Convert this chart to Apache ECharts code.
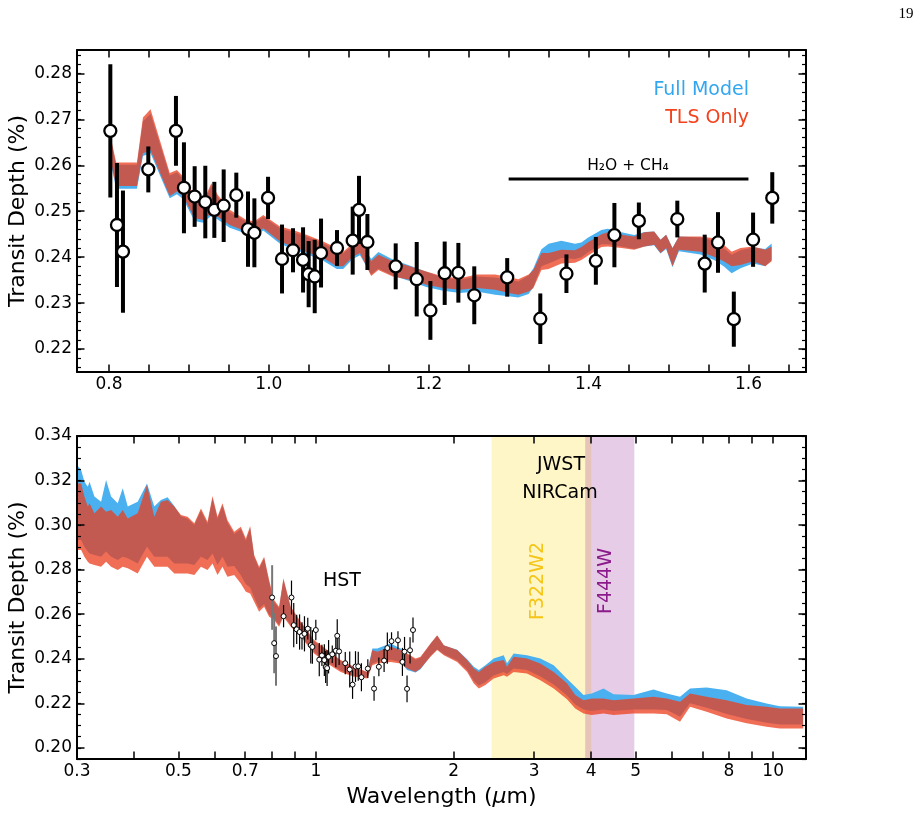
<!DOCTYPE html>
<html>
<head>
<meta charset="utf-8">
<script src="https://cdn.jsdelivr.net/npm/echarts@6/dist/echarts.min.js"></script>
<style>
  html, body { margin: 0; padding: 0; background: #fff; }
  #main { width: 922px; height: 837px; }
</style>
</head>
<body>
<div id="main"></div>
<script>
// HST WFC3 points (top panel, also repeated small in the bottom panel)
const hstWl = [0.8017,0.8100,0.8175,0.8492,0.8838,0.8938,0.9072,0.9205,0.9318,0.9435,0.9593,0.9739,0.9819,0.9990,1.0165,1.0302,1.0428,1.0498,1.0574,1.0653,1.0853,1.1049,1.1128,1.1233,1.1587,1.1850,1.2021,1.2200,1.2371,1.2570,1.2982,1.3396,1.3723,1.4091,1.4323,1.4629,1.5110,1.5453,1.5619,1.5817,1.6058,1.6298];
const hstDepth = [0.2675,0.2470,0.2412,0.2591,0.2675,0.2551,0.2532,0.2520,0.2503,0.2512,0.2535,0.2461,0.2453,0.2529,0.2396,0.2415,0.2394,0.2363,0.2358,0.2409,0.2420,0.2436,0.2503,0.2433,0.2380,0.2352,0.2284,0.2365,0.2366,0.2317,0.2356,0.2266,0.2364,0.2392,0.2448,0.2479,0.2483,0.2386,0.2432,0.2265,0.2438,0.2529];
const hstErr = [0.0145,0.0135,0.0133,0.0050,0.0076,0.0099,0.0066,0.0079,0.0061,0.0079,0.0049,0.0082,0.0075,0.0046,0.0075,0.0048,0.0071,0.0072,0.0080,0.0075,0.0039,0.0074,0.0074,0.0061,0.0050,0.0081,0.0064,0.0069,0.0065,0.0063,0.0042,0.0055,0.0042,0.0052,0.0070,0.0040,0.0040,0.0063,0.0066,0.0060,0.0059,0.0056];

// model bands, zoom on the HST range
const zoomWl = [0.803,0.809,0.835,0.8425,0.852,0.876,0.885,0.893,0.907,0.918,0.928,0.936,0.951,0.972,0.982,0.993,1.014,1.030,1.047,1.068,1.085,1.093,1.105,1.114,1.128,1.137,1.155,1.176,1.197,1.218,1.239,1.260,1.283,1.300,1.312,1.325,1.331,1.341,1.350,1.366,1.383,1.391,1.399,1.416,1.424,1.441,1.457,1.470,1.482,1.490,1.497,1.505,1.513,1.540,1.557,1.569,1.579,1.590,1.606,1.621,1.629];
const zoomTlsHi = [0.2655,0.2606,0.2606,0.2704,0.2722,0.2583,0.2590,0.2575,0.2532,0.2521,0.2561,0.2536,0.2503,0.2481,0.2478,0.2492,0.2467,0.2459,0.2449,0.2434,0.2420,0.2412,0.2430,0.2441,0.2391,0.2405,0.2391,0.2380,0.2369,0.2358,0.2354,0.2362,0.2362,0.2357,0.2352,0.2362,0.2372,0.2409,0.2409,0.2416,0.2415,0.2422,0.2432,0.2450,0.2454,0.2449,0.2445,0.2454,0.2456,0.2438,0.2449,0.2420,0.2445,0.2445,0.2441,0.2427,0.2412,0.2420,0.2423,0.2416,0.2423];
const zoomTlsLo = [0.2604,0.2555,0.2555,0.2626,0.2633,0.2533,0.2543,0.2532,0.2485,0.2481,0.2496,0.2488,0.2470,0.2456,0.2449,0.2463,0.2434,0.2423,0.2412,0.2398,0.2380,0.2380,0.2401,0.2409,0.2359,0.2372,0.2358,0.2351,0.2340,0.2333,0.2329,0.2333,0.2329,0.2322,0.2318,0.2325,0.2333,0.2372,0.2374,0.2386,0.2388,0.2394,0.2403,0.2422,0.2423,0.2420,0.2416,0.2423,0.2427,0.2409,0.2420,0.2380,0.2416,0.2412,0.2401,0.2391,0.2380,0.2383,0.2391,0.2380,0.2391];
const zoomFullHi = [0.2650,0.2601,0.2601,0.2696,0.2712,0.2578,0.2585,0.2570,0.2527,0.2516,0.2556,0.2531,0.2498,0.2477,0.2474,0.2488,0.2463,0.2455,0.2445,0.2430,0.2416,0.2408,0.2426,0.2437,0.2396,0.2411,0.2395,0.2382,0.2368,0.2356,0.2351,0.2358,0.2356,0.2351,0.2347,0.2360,0.2376,0.2417,0.2429,0.2436,0.2429,0.2432,0.2442,0.2459,0.2462,0.2454,0.2448,0.2455,0.2456,0.2438,0.2449,0.2420,0.2445,0.2443,0.2436,0.2420,0.2405,0.2415,0.2421,0.2418,0.2430];
const zoomFullLo = [0.2598,0.2549,0.2549,0.2620,0.2626,0.2528,0.2537,0.2526,0.2479,0.2475,0.2490,0.2482,0.2464,0.2451,0.2444,0.2458,0.2429,0.2418,0.2407,0.2392,0.2374,0.2374,0.2396,0.2404,0.2362,0.2375,0.2360,0.2348,0.2335,0.2327,0.2322,0.2325,0.2318,0.2315,0.2312,0.2320,0.2335,0.2380,0.2386,0.2398,0.2396,0.2400,0.2410,0.2428,0.2428,0.2423,0.2418,0.2423,0.2426,0.2408,0.2418,0.2378,0.2413,0.2406,0.2394,0.2380,0.2365,0.2376,0.2386,0.2380,0.2394];

// model bands, full 0.3-12 um
const fullWl = [0.300,0.3063,0.3114,0.3168,0.3195,0.3275,0.3387,0.3473,0.3562,0.3683,0.3777,0.3874,0.4073,0.4268,0.4428,0.4578,0.4735,0.4897,0.5064,0.5237,0.5417,0.5601,0.5790,0.5937,0.6088,0.6243,0.6400,0.6622,0.6846,0.7023,0.7177,0.7323,0.7508,0.7700,0.7896,0.8096,0.8303,0.8485,0.8805,0.926,0.990,1.059,1.132,1.211,1.295,1.328,1.361,1.456,1.531,1.583,1.651,1.693,1.780,1.841,1.904,2.036,2.141,2.214,2.270,2.347,2.447,2.574,2.617,2.706,2.894,3.095,3.311,3.540,3.690,3.847,4.012,4.255,4.474,4.949,5.472,5.851,6.256,6.579,7.153,7.911,8.748,9.672,10.34,11.63];
const fullTlsHi = [0.3187,0.3187,0.3128,0.3083,0.3098,0.3053,0.3083,0.3060,0.3068,0.3038,0.3068,0.3030,0.3053,0.3180,0.3038,0.3105,0.3113,0.3083,0.3045,0.3038,0.3008,0.3075,0.3015,0.3131,0.3038,0.3098,0.3023,0.2970,0.2993,0.2940,0.2996,0.2866,0.2813,0.2858,0.2753,0.2664,0.2634,0.2761,0.2634,0.2566,0.2484,0.2439,0.2394,0.2364,0.2341,0.2439,0.2431,0.2454,0.2439,0.2424,0.2401,0.2409,0.2469,0.2506,0.2461,0.2439,0.2394,0.2356,0.2341,0.2364,0.2386,0.2394,0.2364,0.2409,0.2401,0.2379,0.2341,0.2290,0.2237,0.2214,0.2222,0.2222,0.2214,0.2222,0.2229,0.2222,0.2207,0.2244,0.2229,0.2214,0.2192,0.2184,0.2177,0.2177];
const fullTlsLo = [0.2888,0.2888,0.2858,0.2836,0.2828,0.2821,0.2813,0.2836,0.2813,0.2798,0.2813,0.2806,0.2783,0.2858,0.2813,0.2813,0.2813,0.2783,0.2783,0.2783,0.2776,0.2813,0.2798,0.2828,0.2776,0.2813,0.2768,0.2776,0.2738,0.2701,0.2693,0.2656,0.2611,0.2634,0.2589,0.2574,0.2544,0.2589,0.2544,0.2499,0.2424,0.2379,0.2341,0.2319,0.2311,0.2371,0.2379,0.2386,0.2379,0.2356,0.2341,0.2356,0.2409,0.2439,0.2416,0.2386,0.2341,0.2289,0.2267,0.2282,0.2311,0.2326,0.2319,0.2341,0.2334,0.2304,0.2267,0.2218,0.2177,0.2154,0.2147,0.2154,0.2147,0.2154,0.2154,0.2151,0.2117,0.2184,0.2162,0.2132,0.2110,0.2095,0.2087,0.2087];
const fullFullHi = [0.3270,0.3247,0.3195,0.3172,0.3195,0.3128,0.3105,0.3202,0.3128,0.3098,0.3165,0.3083,0.3105,0.3187,0.3083,0.3113,0.3125,0.3086,0.3040,0.3030,0.3000,0.3065,0.3005,0.3120,0.3028,0.3088,0.3013,0.2960,0.2983,0.2930,0.2986,0.2858,0.2805,0.2850,0.2745,0.2656,0.2627,0.2754,0.2628,0.2561,0.2479,0.2435,0.2391,0.2362,0.2339,0.2446,0.2446,0.2469,0.2446,0.2420,0.2396,0.2405,0.2466,0.2503,0.2459,0.2440,0.2398,0.2364,0.2349,0.2371,0.2401,0.2416,0.2380,0.2424,0.2416,0.2401,0.2371,0.2310,0.2274,0.2237,0.2244,0.2267,0.2241,0.2237,0.2262,0.2244,0.2229,0.2267,0.2271,0.2259,0.2222,0.2199,0.2187,0.2184];
const fullFullLo = [0.2933,0.2933,0.2903,0.2881,0.2873,0.2866,0.2858,0.2881,0.2858,0.2843,0.2858,0.2851,0.2828,0.2903,0.2858,0.2858,0.2858,0.2828,0.2828,0.2828,0.2821,0.2858,0.2843,0.2873,0.2821,0.2858,0.2813,0.2816,0.2775,0.2735,0.2720,0.2675,0.2625,0.2645,0.2598,0.2582,0.2551,0.2595,0.2550,0.2505,0.2430,0.2385,0.2347,0.2324,0.2315,0.2378,0.2388,0.2395,0.2385,0.2349,0.2338,0.2353,0.2412,0.2443,0.2420,0.2392,0.2350,0.2300,0.2280,0.2295,0.2325,0.2340,0.2332,0.2356,0.2350,0.2320,0.2285,0.2235,0.2195,0.2172,0.2165,0.2172,0.2165,0.2172,0.2172,0.2170,0.2140,0.2200,0.2180,0.2152,0.2130,0.2113,0.2105,0.2105];

// NIRCam filter ranges (um) and the H2O + CH4 bracket
const filterRanges = [[2.42, 4.0], [3.88, 4.97]];
const bracketWl = [1.3, 1.6];
const bracketDepth = [0.257, 0.257];

// ticks
const topTicksX = [0.8,0.85,0.9,0.95,1.0,1.05,1.1,1.15,1.2,1.25,1.3,1.35,1.4,1.45,1.5,1.55,1.6,1.65];
const topLabelsX = [0.8,1.0,1.2,1.4,1.6];
const topTicksY = [0.22,0.23,0.24,0.25,0.26,0.27,0.28];
const topMinorY = [0.216,0.218,0.220,0.222,0.224,0.226,0.228,0.230,0.232,0.234,0.236,0.238,0.240,0.242,0.244,0.246,0.248,0.250,0.252,0.254,0.256,0.258,0.260,0.262,0.264,0.266,0.268,0.270,0.272,0.274,0.276,0.278,0.280,0.282,0.284];
const botTicksX = [0.3,0.4,0.5,0.6,0.7,0.8,0.9,1,2,3,4,5,6,7,8,9,10];
const botLabelsX = [0.3,0.5,0.7,1,2,3,4,5,8,10];
const botTicksY = [0.20,0.22,0.24,0.26,0.28,0.30,0.32,0.34];
const botMinorY = [0.195,0.200,0.205,0.210,0.215,0.220,0.225,0.230,0.235,0.240,0.245,0.250,0.255,0.260,0.265,0.270,0.275,0.280,0.285,0.290,0.295,0.300,0.305,0.310,0.315,0.320,0.325,0.330,0.335,0.340];

const FONT = 'DejaVu Sans';
const BLUE = '#4ab0f0';
const RED = 'rgba(236,62,30,0.75)';

function axis(o) {
  // one side of the frame: ticks inside, black line
  const a = {
    type: o.type || 'value',
    gridIndex: o.grid,
    position: o.pos,
    offset: 0,
    min: o.min, max: o.max,
    axisLine: { show: !o.minor, onZero: false, lineStyle: { color: '#000', width: 2 } },
    axisTick: { show: true, inside: true, length: o.minor ? 4 : 7.5, customValues: o.ticks,
                lineStyle: { color: '#000', width: o.minor ? 1.2 : 1.5 } },
    axisLabel: { show: !!o.labels, customValues: o.labels, color: '#000', fontFamily: FONT,
                 fontSize: 17, margin: o.pos === 'bottom' ? 4 : 5, formatter: o.fmt },
    splitLine: { show: false },
    minorTick: { show: false },
    z: 10
  };
  if (o.type === 'log') a.logBase = 10;
  if (o.name) {
    a.name = o.name;
    a.nameLocation = 'middle';
    a.nameGap = o.nameGap;
    a.nameMoveOverlap = false;
    a.nameTextStyle = Object.assign({ color: '#000', fontFamily: FONT, fontSize: 22 }, o.nameStyle || {});
  }
  return a;
}

const f1 = v => (+v).toFixed(1);
const f2 = v => (+v).toFixed(2);
const fLog = v => String(+(+v).toPrecision(2));

// filled band between lo and hi, as one polygon placed through the axes
function band(xs, lo, hi, xi, yi, color, z) {
  return {
    type: 'custom', xAxisIndex: xi, yAxisIndex: yi, silent: true, z: z,
    encode: { x: 0, y: 1 },
    data: xs.map((x, i) => [x, lo[i], hi[i]]),
    renderItem: function (params, api) {
      if (params.dataIndex !== 0) return null;
      const pts = [];
      for (let i = 0; i < xs.length; i++) pts.push(api.coord([xs[i], hi[i]]));
      for (let i = xs.length - 1; i >= 0; i--) pts.push(api.coord([xs[i], lo[i]]));
      return { type: 'polygon', shape: { points: pts }, style: { fill: color } };
    }
  };
}

function errorBars(xi, yi, width, z, greyFirst) {
  return {
    type: 'custom', xAxisIndex: xi, yAxisIndex: yi, silent: true, z: z,
    encode: { x: 0, y: 1 },
    data: hstWl.map((x, i) => [x, hstDepth[i], hstErr[i]]),
    renderItem: function (params, api) {
      const x = api.value(0), y = api.value(1), e = api.value(2);
      const p1 = api.coord([x, y - e]);
      const p2 = api.coord([x, y + e]);
      const grey = greyFirst && params.dataIndex < 3;
      return {
        type: 'line',
        shape: { x1: p1[0], y1: p1[1], x2: p2[0], y2: p2[1] },
        style: { stroke: grey ? '#777' : '#000', lineWidth: grey ? 2 : width }
      };
    }
  };
}

const chart = echarts.init(document.getElementById('main'), null, { renderer: 'canvas' });

const option = {
  backgroundColor: '#fff',
  animation: false,
  grid: [
    { left: 77, top: 50, width: 729, height: 322, outerBoundsMode: 'none', containLabel: false },
    { left: 77, top: 436, width: 729, height: 323, outerBoundsMode: 'none', containLabel: false }
  ],
  xAxis: [
    axis({ grid: 0, pos: 'bottom', min: 0.76, max: 1.672, ticks: topTicksX, labels: topLabelsX, fmt: f1 }),
    axis({ grid: 0, pos: 'top', min: 0.76, max: 1.672, ticks: topTicksX }),
    axis({ grid: 1, pos: 'bottom', type: 'log', min: 0.3, max: 11.8, ticks: botTicksX, labels: botLabelsX, fmt: fLog,
           name: '{a|Wavelength (}{b|μ}{a|m)}', nameGap: 27,
           nameStyle: { rich: { a: { fontFamily: FONT, fontSize: 22, color: '#000' },
                                b: { fontFamily: FONT, fontSize: 22, fontStyle: 'italic', color: '#000' } } } }),
    axis({ grid: 1, pos: 'top', type: 'log', min: 0.3, max: 11.8, ticks: botTicksX })
  ],
  yAxis: [
    axis({ grid: 0, pos: 'left', min: 0.215, max: 0.2851, ticks: topTicksY, labels: topTicksY, fmt: f2,
           name: 'Transit Depth (%)', nameGap: 48 }),
    axis({ grid: 0, pos: 'left', min: 0.215, max: 0.2851, ticks: topMinorY, minor: true }),
    axis({ grid: 0, pos: 'right', min: 0.215, max: 0.2851, ticks: topTicksY }),
    axis({ grid: 0, pos: 'right', min: 0.215, max: 0.2851, ticks: topMinorY, minor: true }),
    axis({ grid: 1, pos: 'left', min: 0.195, max: 0.34, ticks: botTicksY, labels: botTicksY, fmt: f2,
           name: 'Transit Depth (%)', nameGap: 48 }),
    axis({ grid: 1, pos: 'left', min: 0.195, max: 0.34, ticks: botMinorY, minor: true }),
    axis({ grid: 1, pos: 'right', min: 0.195, max: 0.34, ticks: botTicksY }),
    axis({ grid: 1, pos: 'right', min: 0.195, max: 0.34, ticks: botMinorY, minor: true })
  ],
  series: [
    // NIRCam filter shading
    {
      type: 'custom', xAxisIndex: 2, yAxisIndex: 4, silent: true, z: 1,
      encode: { x: [0, 1] },
      data: filterRanges,
      renderItem: function (params, api) {
        const cs = params.coordSys;
        const a = api.coord([api.value(0), 0.3]);
        const b = api.coord([api.value(1), 0.3]);
        return {
          type: 'rect',
          shape: { x: a[0], y: cs.y, width: b[0] - a[0], height: cs.height },
          style: { fill: params.dataIndex === 0 ? 'rgba(255,215,0,0.22)' : 'rgba(128,0,128,0.2)' }
        };
      }
    },
    band(zoomWl, zoomFullLo, zoomFullHi, 0, 0, BLUE, 2),
    band(zoomWl, zoomTlsLo, zoomTlsHi, 0, 0, RED, 3),
    band(fullWl, fullFullLo, fullFullHi, 2, 4, BLUE, 2),
    band(fullWl, fullTlsLo, fullTlsHi, 2, 4, RED, 3),
    {
      type: 'line', xAxisIndex: 0, yAxisIndex: 0, symbol: 'none', silent: true, z: 4,
      lineStyle: { color: '#000', width: 3 },
      data: bracketWl.map((x, i) => [x, bracketDepth[i]])
    },
    errorBars(0, 0, 4, 5, false),
    {
      type: 'scatter', xAxisIndex: 0, yAxisIndex: 0, symbol: 'circle', symbolSize: 12, silent: true, z: 6,
      itemStyle: { color: '#fff', borderColor: '#000', borderWidth: 2.3, opacity: 1 },
      data: hstWl.map((x, i) => [x, hstDepth[i]])
    },
    errorBars(2, 4, 1.2, 5, true),
    {
      type: 'scatter', xAxisIndex: 2, yAxisIndex: 4, symbol: 'circle', symbolSize: 5, silent: true, z: 6,
      itemStyle: { color: '#fff', borderColor: '#000', borderWidth: 1, opacity: 1 },
      data: hstWl.map((x, i) => [x, hstDepth[i]])
    }
  ],
  graphic: [
    { type: 'text', x: 906, y: 14, z: 20, style: { text: '19', fontFamily: 'Liberation Serif', fontSize: 15, fill: '#000', align: 'center', verticalAlign: 'middle' } },
    { type: 'text', x: 749, y: 90, z: 20, style: { text: 'Full Model', fontFamily: FONT, fontSize: 19, fill: '#33a6f0', align: 'right', verticalAlign: 'middle' } },
    { type: 'text', x: 749, y: 118, z: 20, style: { text: 'TLS Only', fontFamily: FONT, fontSize: 19, fill: '#f4421c', align: 'right', verticalAlign: 'middle' } },
    { type: 'text', x: 628, y: 166, z: 20, style: { text: 'H₂O + CH₄', fontFamily: FONT, fontSize: 15.5, fill: '#000', align: 'center', verticalAlign: 'middle' } },
    { type: 'text', x: 342, y: 581, z: 20, style: { text: 'HST', fontFamily: FONT, fontSize: 19, fill: '#000', align: 'center', verticalAlign: 'middle' } },
    { type: 'text', x: 561, y: 465, z: 20, style: { text: 'JWST', fontFamily: FONT, fontSize: 19, fill: '#000', align: 'center', verticalAlign: 'middle' } },
    { type: 'text', x: 560, y: 493, z: 20, style: { text: 'NIRCam', fontFamily: FONT, fontSize: 19, fill: '#000', align: 'center', verticalAlign: 'middle' } },
    { type: 'text', x: 538, y: 581, rotation: Math.PI / 2, z: 20, style: { text: 'F322W2', fontFamily: FONT, fontSize: 19, fill: '#f5c518', align: 'center', verticalAlign: 'middle' } },
    { type: 'text', x: 606, y: 581, rotation: Math.PI / 2, z: 20, style: { text: 'F444W', fontFamily: FONT, fontSize: 19, fill: '#8b1a8b', align: 'center', verticalAlign: 'middle' } }
  ]
};

chart.setOption(option);
</script>
</body>
</html>
